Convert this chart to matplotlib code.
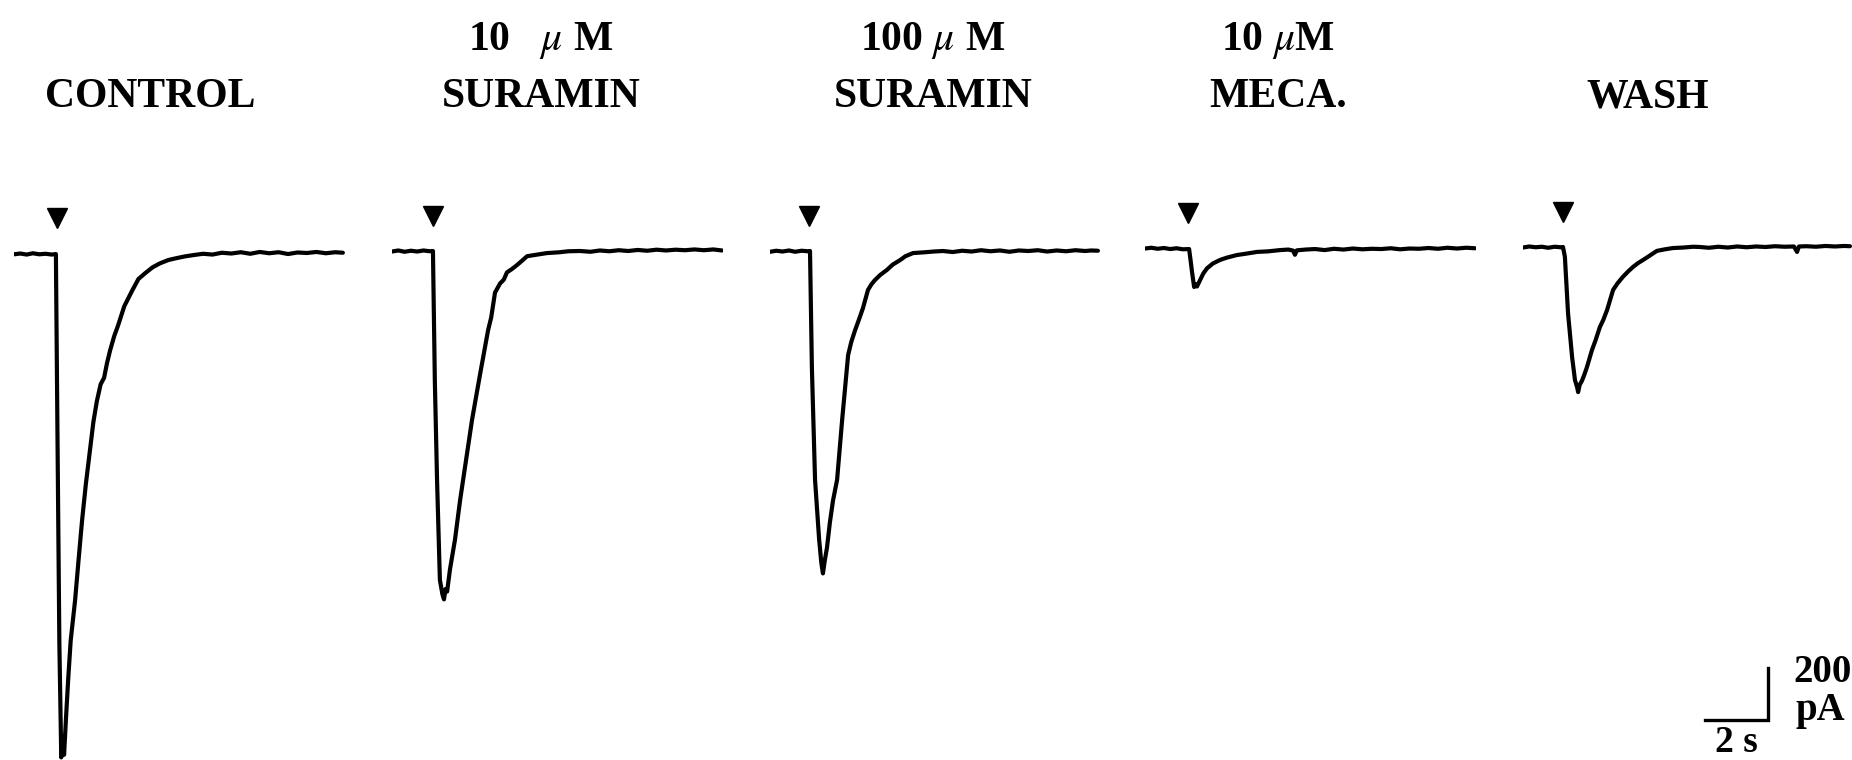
import matplotlib
matplotlib.use("Agg")
import matplotlib.pyplot as plt
import numpy as np

plt.rcParams['font.family'] = ['Liberation Serif', 'DejaVu Serif']
plt.rcParams['mathtext.fontset'] = 'stix'

# ---- sweeps: (time s, current pA), inward current negative ----
control = [(0.00, -5), (0.20, -2), (0.40, -6), (0.60, -1), (0.80, -5), (1.00, -3), (1.20, -6), (1.33, -4),
           (1.38, -700), (1.44, -1500), (1.50, -1940), (1.55, -1860), (1.59, -1930), (1.65, -1790),
           (1.72, -1640), (1.80, -1490), (1.94, -1335), (2.05, -1180), (2.16, -1030), (2.28, -890),
           (2.41, -760), (2.52, -650), (2.63, -570), (2.75, -505), (2.86, -480), (2.95, -425),
           (3.05, -375), (3.18, -320), (3.30, -280), (3.50, -205), (3.75, -145), (3.95, -100),
           (4.16, -78), (4.40, -55), (4.63, -40), (4.90, -27), (5.15, -20), (5.43, -13), (5.70, -8),
           (6.00, -3), (6.30, -6), (6.60, 1), (6.90, -2), (7.20, 3), (7.50, -3), (7.80, 4), (8.10, -1),
           (8.40, 3), (8.70, -4), (9.00, 2), (9.30, 0), (9.60, 4), (9.90, -1), (10.20, 3), (10.44, 1)]

suramin_10 = [(0.00, -2), (0.20, 2), (0.40, -3), (0.60, 1), (0.80, -2), (1.00, 2), (1.20, -1), (1.30, 0),
              (1.36, -500), (1.43, -880), (1.52, -1265), (1.60, -1320), (1.65, -1340), (1.70, -1300),
              (1.75, -1310), (1.84, -1225), (2.00, -1110), (2.16, -960), (2.35, -805), (2.54, -650),
              (2.79, -478), (3.05, -305), (3.15, -255), (3.27, -160), (3.43, -125), (3.55, -110),
              (3.65, -82), (3.80, -70), (3.97, -54), (4.15, -35), (4.29, -20), (4.60, -14), (4.92, -8),
              (5.30, -5), (5.60, -1), (5.97, 0), (6.30, -3), (6.60, 2), (6.90, -1), (7.20, 3), (7.50, 0),
              (7.80, 4), (8.10, 1), (8.40, 5), (8.70, 2), (9.00, 5), (9.30, 3), (9.60, 6), (9.90, 3),
              (10.20, 6), (10.48, 2)]

suramin_100 = [(0.00, -3), (0.20, 1), (0.40, -2), (0.60, 2), (0.80, -3), (1.00, 1), (1.20, -1), (1.27, 0),
               (1.33, -450), (1.43, -880), (1.56, -1110), (1.63, -1200), (1.68, -1240), (1.74, -1190),
               (1.81, -1140), (1.90, -1045), (2.00, -960), (2.13, -880), (2.29, -650), (2.48, -400),
               (2.58, -350), (2.70, -305), (2.82, -265), (2.95, -220), (3.11, -150), (3.22, -128),
               (3.33, -112), (3.50, -92), (3.71, -73), (3.90, -52), (4.13, -35), (4.30, -20), (4.54, -8),
               (4.90, -5), (5.20, -2), (5.49, 0), (5.80, -4), (6.10, 1), (6.40, -2), (6.70, 3), (7.00, -1),
               (7.30, 2), (7.60, -3), (7.90, 2), (8.20, 0), (8.50, 3), (8.80, -2), (9.10, 2), (9.40, -1),
               (9.70, 3), (10.00, 0), (10.20, 2), (10.41, 1)]

meca_10 = [(0.00, -2), (0.20, 1), (0.40, -3), (0.60, 0), (0.80, -4), (1.00, -1), (1.20, -5), (1.40, -4),
           (1.45, -50), (1.49, -90), (1.56, -150), (1.61, -140), (1.65, -148), (1.75, -123), (1.85, -98),
           (1.97, -78), (2.15, -60), (2.38, -46), (2.60, -37), (2.92, -27), (3.20, -22), (3.56, -15),
           (3.90, -13), (4.29, -8), (4.55, -6), (4.70, -10), (4.76, -26), (4.82, -9), (5.10, -6),
           (5.40, -4), (5.70, -8), (6.00, -3), (6.30, -6), (6.60, -2), (6.90, -5), (7.20, -3), (7.50, -4),
           (7.80, -1), (8.10, -5), (8.40, -2), (8.70, -3), (9.00, 0), (9.30, -3), (9.60, 1), (9.90, -2),
           (10.20, 1), (10.48, -1)]

wash = [(0.00, -2), (0.20, 2), (0.40, -1), (0.60, 1), (0.80, -3), (1.00, 1), (1.20, -1), (1.27, 0),
        (1.33, -38), (1.43, -255), (1.56, -425), (1.65, -512), (1.72, -540), (1.75, -558), (1.80, -530),
        (1.87, -515), (1.95, -490), (2.03, -462), (2.19, -396), (2.30, -360), (2.44, -308), (2.55, -280),
        (2.67, -242), (2.86, -165), (3.00, -140), (3.17, -115), (3.33, -95), (3.49, -77), (3.65, -62),
        (3.81, -50), (4.00, -35), (4.25, -15), (4.50, -9), (4.76, -4), (5.10, -2), (5.40, 1), (5.62, 0),
        (5.90, -3), (6.20, 1), (6.50, -2), (6.80, 2), (7.10, -1), (7.40, 2), (7.70, 0), (8.00, 3),
        (8.30, 1), (8.60, 2), (8.70, -19), (8.76, 2), (9.00, 3), (9.30, 1), (9.60, 4), (9.90, 2),
        (10.20, 4), (10.38, 3)]

sweeps = [control, suramin_10, suramin_100, meca_10, wash]
stim_times = [1.35, 1.30, 1.23, 1.38, 1.27]   # ATP application (s)
top_labels = ["", "10   $\\mu$ M", "100 $\\mu$ M", "10 $\\mu$M", ""]
bottom_labels = ["CONTROL", "SURAMIN", "SURAMIN", "MECA.", "WASH"]

scale_t = 2      # s
scale_i = 200    # pA

# ---- layout (pixels) ----
W, H = 1852, 760
px_per_s = 31.5
pA_per_px = 200 / 52
sweep_len = 10.5
sweep_left = [14, 392, 770, 1145, 1523]
baseline_row = [253, 251, 251, 248, 247]
label_x = [150, 541, 933, 1278, 1648]

fig = plt.figure(figsize=(W / 100, H / 100), dpi=100)

axes = []
for i, sw in enumerate(sweeps):
    ax = fig.add_axes([sweep_left[i] / W, 0, sweep_len * px_per_s / W, 1])
    ax.set_xlim(0, sweep_len)
    ax.set_ylim(-(H - baseline_row[i]) * pA_per_px, baseline_row[i] * pA_per_px)
    t = np.array([p[0] for p in sw])
    cur = np.array([p[1] for p in sw])
    ax.plot(t, cur, color='black', lw=3.0, solid_joinstyle='round', solid_capstyle='round')
    ax.plot(stim_times[i], 135, marker='v', ms=14, color='black', mec='black')
    ax.axis('off')
    axes.append(ax)

    fig.text(label_x[i] / W, 1 - 107 / H, bottom_labels[i], ha='center', va='baseline',
             fontsize=30, fontweight='bold')
    if top_labels[i]:
        fig.text(label_x[i] / W, 1 - 50 / H, top_labels[i], ha='center', va='baseline',
                 fontsize=30, fontweight='bold')

# scale bar in the last sweep
ax = axes[-1]
corner_t = 7.78
corner_i = -(720 - baseline_row[-1]) * pA_per_px
ax.plot([corner_t - scale_t, corner_t, corner_t], [corner_i, corner_i, corner_i + scale_i],
        color='black', lw=2.4, solid_joinstyle='miter', clip_on=False)
fig.text(1793 / W, 1 - 682 / H, "200", ha='left', va='baseline', fontsize=28, fontweight='bold')
fig.text(1795 / W, 1 - 720 / H, "pA", ha='left', va='baseline', fontsize=28, fontweight='bold')
fig.text(1736 / W, 1 - 752 / H, "2 s", ha='center', va='baseline', fontsize=27, fontweight='bold')

fig.savefig("out.png", dpi=100, facecolor='white')
